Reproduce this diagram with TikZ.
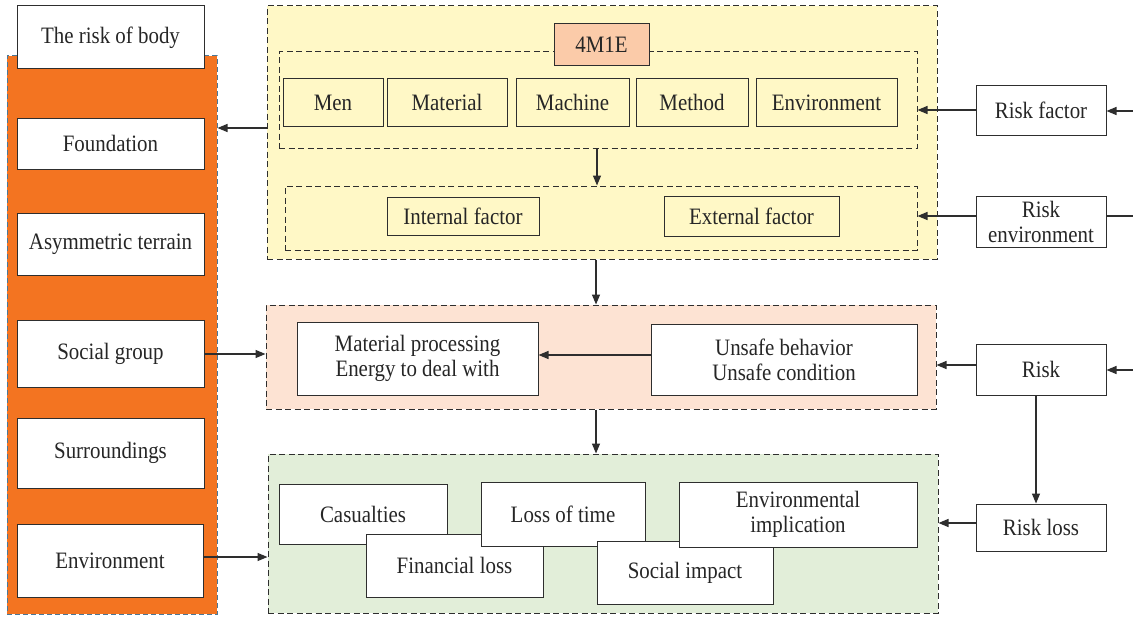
\documentclass[tikz,border=0pt]{standalone}
\usepackage{fontspec}
\setmainfont{Liberation Serif}[FakeStretch=0.89]
\usetikzlibrary{arrows.meta}
\definecolor{borange}{HTML}{F37421}
\definecolor{bblue}{HTML}{4A7898}
\definecolor{yel}{HTML}{FFF8C6}
\definecolor{peach}{HTML}{FBCBA9}
\definecolor{pinkf}{HTML}{FDE3D3}
\definecolor{greenf}{HTML}{E2EED9}
\definecolor{linec}{HTML}{2E2E2E}
\begin{document}
\begin{tikzpicture}[x=1pt,y=-1pt,
  every node/.style={font=\fontsize{23.5}{25}\selectfont, text=black!85, inner sep=0pt, align=center},
  box/.style={draw=linec, line width=1pt, fill=white},
  ybox/.style={draw=linec, line width=1pt, fill=yel},
  panel/.style={draw=linec, line width=1pt, dash pattern=on 6pt off 3.5pt},
  arr/.style={draw=linec, line width=1.3pt, -{Triangle[length=10pt,width=8pt]}},
  plain/.style={draw=linec, line width=1.3pt},
  sz/.style 2 args={minimum width=#1pt, minimum height=#2pt}]
\useasboundingbox (0,0) rectangle (1133,618);
\fill[white] (0,0) rectangle (1133,618);

% left orange panel
\node[draw=bblue, fill=borange, line width=1pt, dash pattern=on 5pt off 3pt, sz={210}{558}] (opanel) at (112,335) {};
\node[box, sz={187}{63}] (body) at (110.5,37.5) {The risk of body};
\node[box, sz={187}{51}] (found) at (110.5,143.5) {Foundation};
\node[box, sz={187}{62}] (asym) at (110.5,244) {Asymmetric terrain};
\node[box, sz={187}{67}] (social) at (110.5,353.5) {Social group};
\node[box, sz={187}{70}] (surr) at (110.5,453) {Surroundings};
\node[box, sz={186}{73}] (envl) at (110,560.5) {Environment};

% yellow panel
\node[panel, fill=yel, sz={670}{253}] (ypanel) at (602,132.5) {};
\node[panel, sz={638}{96}] (inner1) at (598,100) {};
\node[draw=linec, line width=1pt, fill=peach, sz={95}{42}] (fme) at (601.5,45) {4M1E};
\node[ybox, sz={100}{47}] (men) at (333,102.5) {Men};
\node[ybox, sz={120}{47}] (mat) at (447,102.5) {Material};
\node[ybox, sz={113}{47}] (mach) at (572.5,102.5) {Machine};
\node[ybox, sz={112}{47}] (meth) at (692,102.5) {Method};
\node[ybox, sz={141}{47}] (envm) at (826.5,102.5) {Environment};
\node[panel, sz={632}{64}] (inner2) at (601,218) {};
\node[ybox, sz={152}{38}] (intf) at (463,216) {Internal factor};
\node[ybox, sz={175}{40}] (extf) at (751.5,216) {External factor};

% right column
\node[box, sz={130}{49}] (rf) at (1041,110.5) {Risk factor};
\node[box, sz={130}{51}] (re) at (1041,221.5) {Risk\\environment};
\node[box, sz={130}{51}] (risk) at (1041,369.5) {Risk};
\node[box, sz={130}{47}] (rl) at (1041,527.5) {Risk loss};

% pink panel
\node[panel, fill=pinkf, sz={670}{104}] (ppanel) at (601,357) {};
\node[box, sz={241}{73}] (matp) at (417.5,358.5) {Material processing\\Energy to deal with};
\node[box, sz={266}{71}] (unsafe) at (784,359.5) {Unsafe behavior\\Unsafe condition};

% green panel
\node[panel, fill=greenf, sz={670}{159}] (gpanel) at (603,533.5) {};
\node[box, sz={168}{60}] (cas) at (363,514) {Casualties};
\node[box, sz={177}{63}] (fin) at (454.5,565.5) {Financial loss};
\node[box, sz={164}{64}] (lot) at (563,514) {Loss of time};
\node[box, sz={176}{63}] (soc) at (685,572.5) {Social impact};
\node[box, sz={238}{65}] (eimp) at (798,514.5) {Environmental\\implication};

% free ends at right edge
\coordinate (e1) at (1133,111);
\coordinate (e2) at (1133,216);
\coordinate (e3) at (1133,370);

% connectors
\draw[arr] (ypanel.west |- 0,128) -- (opanel.east |- 0,128);
\draw[arr] (inner1.south -| 597,0) -- (inner2.north -| 597,0);
\draw[arr] (rf.west |- 0,110) -- (inner1.east |- 0,110);
\draw[arr] (e1) -- (rf.east |- e1);
\draw[arr] (re.west |- 0,216) -- (inner2.east |- 0,216);
\draw[plain] (re.east |- e2) -- (e2);
\draw[arr] (ypanel.south -| 596,0) -- (ppanel.north -| 596,0);
\draw[arr] (social.east |- 0,354) -- (ppanel.west |- 0,354);
\draw[arr] (unsafe.west |- 0,355) -- (matp.east |- 0,355);
\draw[arr] (risk.west |- 0,365) -- (ppanel.east |- 0,365);
\draw[arr] (e3) -- (risk.east |- e3);
\draw[arr] (ppanel.south -| 596,0) -- (gpanel.north -| 596,0);
\draw[arr] (envl.east |- 0,557) -- (gpanel.west |- 0,557);
\draw[arr] (risk.south -| 1036,0) -- (rl.north -| 1036,0);
\draw[arr] (rl.west |- 0,523) -- (gpanel.east |- 0,523);
\end{tikzpicture}
\end{document}
